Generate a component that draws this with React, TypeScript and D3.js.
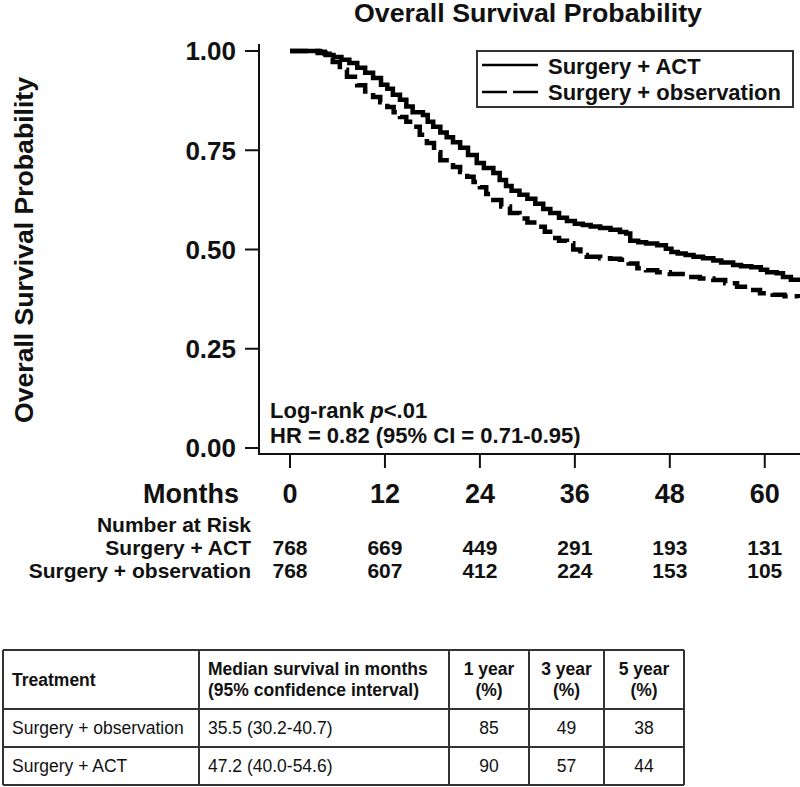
import React from "react";
import * as d3 from "d3";

const W = 800;
const H = 787;

const xTicks = [0, 12, 24, 36, 48, 60];
const yTicks = [0, 0.25, 0.5, 0.75, 1.0];

const seriesNames = ["Surgery + ACT", "Surgery + observation"];

const actTimes = [0, 3, 3.5, 4.5, 5.5, 6.5, 7.5, 8.5, 9.5, 10.5, 11.5, 12.3, 13, 13.9, 14.7, 15.5, 16.8, 17.4, 18.1, 19, 19.8, 20.6, 21.5, 22.5, 23.6, 24.5, 25.7, 26.5, 27.3, 28, 29, 30, 31, 32, 32.9, 34, 35, 36, 37, 38, 39.2, 40.5, 41.7, 42.5, 43, 44, 45, 46.4, 47.5, 48.2, 49, 50, 51, 52.2, 53.5, 54.5, 56, 57, 58.3, 59.5, 60.3, 61.5, 62.3, 63.3, 64.2];
const actSurv = [1, 1, 0.995, 0.99, 0.985, 0.978, 0.97, 0.958, 0.945, 0.932, 0.915, 0.905, 0.89, 0.877, 0.86, 0.846, 0.839, 0.822, 0.809, 0.795, 0.783, 0.77, 0.756, 0.738, 0.718, 0.705, 0.693, 0.675, 0.66, 0.648, 0.638, 0.628, 0.615, 0.602, 0.592, 0.58, 0.572, 0.565, 0.562, 0.558, 0.554, 0.55, 0.544, 0.54, 0.522, 0.518, 0.515, 0.511, 0.502, 0.494, 0.49, 0.486, 0.482, 0.478, 0.472, 0.467, 0.461, 0.458, 0.455, 0.449, 0.443, 0.44, 0.431, 0.424, 0.418];

const obsTimes = [0, 3, 3.8, 4.4, 5, 5.4, 6.3, 7.2, 8.5, 9.5, 10.5, 11.4, 12.3, 13.1, 13.9, 14.7, 15.5, 16.4, 17.3, 18.2, 19, 20.6, 21.5, 22.4, 23.2, 24, 24.8, 25.7, 26.7, 27.8, 29, 30, 31.2, 32.2, 33.2, 34, 35, 35.8, 36.7, 37.5, 39.2, 40.5, 41.7, 42.8, 43.9, 45, 46.4, 48, 50.2, 51.8, 53.5, 55, 56.5, 58, 59.4, 61, 62.5, 64.2];
const obsSurv = [1, 1, 0.998, 0.993, 0.982, 0.972, 0.953, 0.935, 0.914, 0.898, 0.884, 0.871, 0.859, 0.846, 0.834, 0.822, 0.809, 0.789, 0.768, 0.745, 0.725, 0.708, 0.695, 0.683, 0.67, 0.657, 0.64, 0.625, 0.608, 0.592, 0.578, 0.568, 0.557, 0.545, 0.529, 0.522, 0.516, 0.5, 0.486, 0.482, 0.478, 0.477, 0.474, 0.465, 0.453, 0.448, 0.443, 0.438, 0.431, 0.427, 0.423, 0.415, 0.406, 0.398, 0.39, 0.386, 0.382, 0.378];

const riskAct = [768, 669, 449, 291, 193, 131];
const riskObs = [768, 607, 412, 224, 153, 105];

const tableHeader = ["Treatment", "Median survival in months|(95% confidence interval)", "1 year|(%)", "3 year|(%)", "5 year|(%)"];
const tableRows = [
  ["Surgery + observation", "35.5 (30.2-40.7)", "85", "49", "38"],
  ["Surgery + ACT", "47.2 (40.0-54.6)", "90", "57", "44"],
];

const FONT = "'Liberation Sans', Arial, Helvetica, sans-serif";

export default function App() {
  const x = d3.scaleLinear().domain([0, 64.2]).range([290, 798]);
  const y = d3.scaleLinear().domain([0, 1]).range([448, 51]);
  const line = d3
    .line<[number, number]>()
    .x((d) => x(d[0]))
    .y((d) => y(d[1]))
    .curve(d3.curveStepAfter);
  const actData = actTimes.map((t, i) => [t, actSurv[i]] as [number, number]);
  const obsData = obsTimes.map((t, i) => [t, obsSurv[i]] as [number, number]);
  const fmt = d3.format(".2f");

  const colX = [3, 199, 449, 529, 604, 684];
  const rowY = [650, 709, 747, 785];

  return (
    <svg
      width={W}
      height={H}
      style={{ position: "absolute", left: 0, top: 0, background: "#fff" }}
      fontFamily={FONT}
    >
      <rect x={0} y={0} width={W} height={H} fill="#fff" />
      {/* Title */}
      <text x={528} y={22} textAnchor="middle" fontSize={25} fontWeight="bold" fill="#111"
        textLength={348} lengthAdjust="spacingAndGlyphs">
        Overall Survival Probability
      </text>
      {/* Y axis title */}
      <text
        transform={`translate(33,250) rotate(-90)`}
        textAnchor="middle"
        fontSize={25}
        fontWeight="bold"
        fill="#111"
        textLength={346}
        lengthAdjust="spacingAndGlyphs"
      >
        Overall Survival Probability
      </text>

      {/* Axes */}
      <line x1={259} y1={44} x2={259} y2={455} stroke="#111" strokeWidth={2} />
      <line x1={258} y1={454} x2={800} y2={454} stroke="#111" strokeWidth={2} />
      {yTicks.map((t) => (
        <g key={t}>
          <line x1={245} x2={259} y1={y(t)} y2={y(t)} stroke="#111" strokeWidth={2} />
          <text x={236} y={y(t)} dy="0.36em" textAnchor="end" fontSize={26} fontWeight="bold" fill="#111">
            {fmt(t)}
          </text>
        </g>
      ))}
      {xTicks.map((t) => (
        <g key={t}>
          <line x1={x(t)} x2={x(t)} y1={454} y2={468} stroke="#111" strokeWidth={2} />
          <text x={x(t)} y={493} dy="0.36em" textAnchor="middle" fontSize={27} fontWeight="bold" fill="#111">
            {t}
          </text>
        </g>
      ))}
      <text x={239} y={493} dy="0.36em" textAnchor="end" fontSize={27} fontWeight="bold" fill="#111">
        Months
      </text>

      {/* Curves */}
      <path d={line(actData) || ""} fill="none" stroke="#000" strokeWidth={4.5} />
      <path d={line(obsData) || ""} fill="none" stroke="#000" strokeWidth={4.5} strokeDasharray="18 7" />

      {/* Legend */}
      <rect x={477} y={51} width={316} height={56} fill="#fff" stroke="#333" strokeWidth={2} />
      <line x1={482} x2={538} y1={65} y2={65} stroke="#000" strokeWidth={2.5} />
      <line x1={482} x2={538} y1={92} y2={92} stroke="#000" strokeWidth={2.5} strokeDasharray="25 6" />
      <text x={548} y={66} dy="0.36em" fontSize={22} fontWeight="bold" fill="#111">
        {seriesNames[0]}
      </text>
      <text x={548} y={92} dy="0.36em" fontSize={22} fontWeight="bold" fill="#111">
        {seriesNames[1]}
      </text>

      {/* Stats */}
      <text x={270} y={410} dy="0.36em" fontSize={22} fontWeight="bold" fill="#111">
        Log-rank <tspan fontStyle="italic">p</tspan>&lt;.01
      </text>
      <text x={270} y={435} dy="0.36em" fontSize={22} fontWeight="bold" fill="#111">
        HR = 0.82 (95% CI = 0.71-0.95)
      </text>

      {/* Number at risk */}
      <text x={251} y={524} dy="0.36em" textAnchor="end" fontSize={21} fontWeight="bold" fill="#111">
        Number at Risk
      </text>
      <text x={251} y={547} dy="0.36em" textAnchor="end" fontSize={21} fontWeight="bold" fill="#111">
        {seriesNames[0]}
      </text>
      <text x={251} y={570} dy="0.36em" textAnchor="end" fontSize={21} fontWeight="bold" fill="#111">
        {seriesNames[1]}
      </text>
      {xTicks.map((t, i) => (
        <g key={"r" + t}>
          <text x={x(t)} y={547} dy="0.36em" textAnchor="middle" fontSize={21} fontWeight="bold" fill="#111">
            {riskAct[i]}
          </text>
          <text x={x(t)} y={570} dy="0.36em" textAnchor="middle" fontSize={21} fontWeight="bold" fill="#111">
            {riskObs[i]}
          </text>
        </g>
      ))}

      {/* Table */}
      <g stroke="#333" strokeWidth={2}>
        {rowY.map((ry) => (
          <line key={"h" + ry} x1={colX[0]} x2={colX[colX.length - 1]} y1={ry} y2={ry} />
        ))}
        {colX.map((cx) => (
          <line key={"v" + cx} x1={cx} x2={cx} y1={rowY[0]} y2={rowY[rowY.length - 1]} />
        ))}
      </g>
      {tableHeader.map((h, i) => {
        const lines = h.split("|");
        const left = i < 2;
        const tx = left ? colX[i] + 9 : (colX[i] + colX[i + 1]) / 2;
        const cy = (rowY[0] + rowY[1]) / 2;
        return (
          <text
            key={"th" + i}
            x={tx}
            textAnchor={left ? "start" : "middle"}
            fontSize={17.5}
            fontWeight="bold"
            fill="#111"
          >
            {lines.map((l, j) => (
              <tspan key={j} x={tx} y={cy + (j - (lines.length - 1) / 2) * 21} dy="0.36em">
                {l}
              </tspan>
            ))}
          </text>
        );
      })}
      {tableRows.map((row, r) =>
        row.map((c, i) => {
          const left = i < 2;
          const tx = left ? colX[i] + 9 : (colX[i] + colX[i + 1]) / 2;
          const cy = (rowY[r + 1] + rowY[r + 2]) / 2;
          return (
            <text
              key={"td" + r + i}
              x={tx}
              y={cy}
              dy="0.36em"
              textAnchor={left ? "start" : "middle"}
              fontSize={17.5}
              fill="#111"
            >
              {c}
            </text>
          );
        })
      )}
    </svg>
  );
}
